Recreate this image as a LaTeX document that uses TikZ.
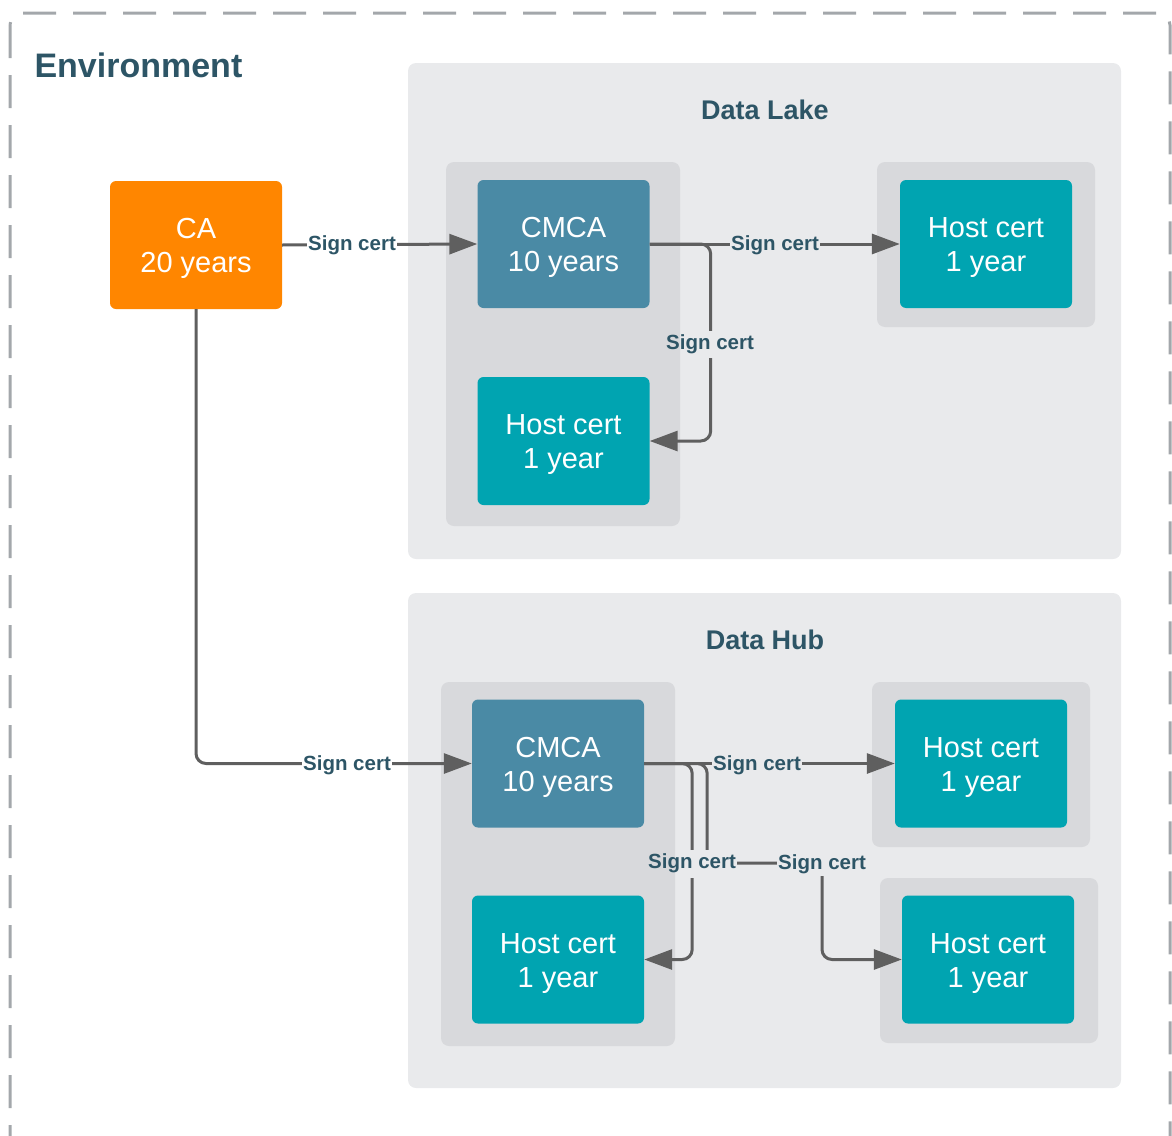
\documentclass[tikz,border=0pt]{standalone}
\usepackage{fontspec}
\setmainfont{Liberation Sans}
\usetikzlibrary{arrows.meta}
\definecolor{orangec}{HTML}{FF8600}
\definecolor{cmcac}{HTML}{4A8AA5}
\definecolor{hostc}{HTML}{00A4B1}
\definecolor{panelc}{HTML}{E9EAEC}
\definecolor{innerc}{HTML}{D8D9DC}
\definecolor{textc}{HTML}{2D5566}
\definecolor{linec}{HTML}{5F5F5F}
\definecolor{dashc}{HTML}{A3A7AB}
\newcommand{\twolines}[2]{\rule{0pt}{27pt}#1\\#2}
\begin{document}
\begin{tikzpicture}[x=1pt,y=-1pt,
  panel/.style={fill=panelc, rounded corners=8},
  inner/.style={fill=innerc, rounded corners=8},
  box/.style={rectangle, rounded corners=6, minimum width=172, minimum height=128, inner sep=0, text=white, align=center, font=\fontsize{29}{34}\selectfont},
  cabox/.style={box, fill=orangec},
  cmcabox/.style={box, fill=cmcac},
  hostbox/.style={box, fill=hostc},
  conn/.style={draw=linec, line width=3, rounded corners=10, -{Triangle[length=28,width=20]}},
  lbl/.style={font=\fontsize{20.5}{24}\bfseries\selectfont, text=textc, inner sep=1.5, fill=#1},
  lbl/.default=panelc,
  title/.style={font=\fontsize{27}{32}\bfseries\selectfont, text=textc}]
\useasboundingbox (0,0) rectangle (1172,1135);
% environment border
\draw[dashc, line width=3, rounded corners=12, dash pattern=on 33 off 17] (10,13) rectangle (1170,1165);
\node[font=\fontsize{34}{40}\bfseries\selectfont, text=textc, anchor=west] (env) at (31,65) {Environment};
% Data Lake panels
\fill[panel] (408,63) rectangle (1121,559);
\fill[inner] (446,162) rectangle (680,526);
\fill[inner] (877,162) rectangle (1095,327);
\node[title] (dltitle) at (765,110) {Data Lake};
% Data Hub panels
\fill[panel] (408,593) rectangle (1121,1088);
\fill[inner] (441,682) rectangle (675,1046);
\fill[inner] (872,682) rectangle (1090,847);
\fill[inner] (880,878) rectangle (1098,1043);
\node[title] (dhtitle) at (765,640) {Data Hub};
% boxes
\node[cabox] (ca) at (196,245) {\twolines{CA}{20 years}};
\node[cmcabox] (dlca) at (563.5,244) {\twolines{CMCA}{10 years}};
\node[hostbox] (dlhr) at (986,244) {\twolines{Host cert}{1 year}};
\node[hostbox] (dlhl) at (563.5,441) {\twolines{Host cert}{1 year}};
\node[cmcabox] (dhca) at (558,763.5) {\twolines{CMCA}{10 years}};
\node[hostbox] (dhhl) at (558,959.5) {\twolines{Host cert}{1 year}};
\node[hostbox] (dhhr1) at (981,763.5) {\twolines{Host cert}{1 year}};
\node[hostbox] (dhhr2) at (988,959.5) {\twolines{Host cert}{1 year}};
% connectors
\draw[conn] (ca.east) -- (dlca.west);
\draw[conn] (ca.south) |- (dhca.west);
\draw[conn] (dlca.east) -- (dlhr.west);
\draw[conn] (dlca.east) -- ++(61,0) |- (dlhl.east);
\draw[conn] (dhca.east) -- (dhhr1.west);
\draw[conn] (dhca.east) -- ++(48,0) |- (dhhl.east);
\coordinate (jn) at (822,863);
\draw[conn] (dhca.east) -- ++(63,0) |- (jn) |- (dhhr2.west);
% label masks where a label overlaps two backgrounds
\fill[panelc] (681,331) rectangle (756,358);
\fill[panelc] (676,850) rectangle (737,878);
% labels
\node[lbl=white] (l1) at (352,245.5) {Sign cert};
\node[lbl] (l2) at (775,245.5) {Sign cert};
\node[lbl=none] (l3) at (710,344.5) {Sign cert};
\node[lbl=white] (l4) at (347,765.5) {Sign cert};
\node[lbl] (l5) at (757,765.5) {Sign cert};
\node[lbl=none] (l6) at (692,863.5) {Sign cert};
\node[lbl] (l7) at (822,864.5) {Sign cert};
\end{tikzpicture}
\end{document}
